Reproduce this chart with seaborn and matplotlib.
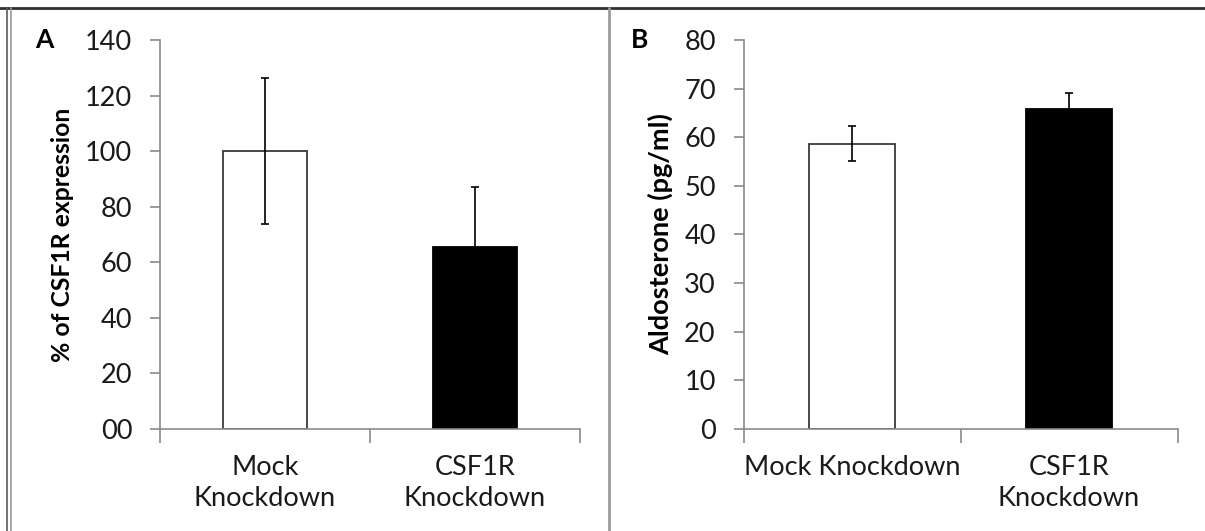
import matplotlib
matplotlib.use("Agg")
import matplotlib.pyplot as plt
from matplotlib.lines import Line2D
from matplotlib.ticker import FixedLocator
import seaborn as sns
import pandas as pd

# Panel A: CSF1R expression after knockdown
a_labels = ["Mock\nKnockdown", "CSF1R\nKnockdown"]
a_values = [100.0, 65.5]
a_errors = [26.3, 21.7]
a_ticks = [0, 20, 40, 60, 80, 100, 120, 140]
a_ticklabels = ["00", "20", "40", "60", "80", "100", "120", "140"]

# Panel B: aldosterone secretion
b_labels = ["Mock Knockdown", "CSF1R\nKnockdown"]
b_values = [58.7, 65.8]
b_errors = [3.6, 3.4]
b_ticks = [0, 10, 20, 30, 40, 50, 60, 70, 80]
b_ticklabels = [str(t) for t in b_ticks]

bar_fills = ["white", "black"]
bar_edges = ["#3a3a3a", "black"]

sns.set_theme(style="white")
plt.rcParams["font.family"] = ["Lato", "DejaVu Sans"]

fig = plt.figure(figsize=(12.05, 5.31), dpi=100)
W, H = 1205, 531


def px_axes(x0, x1, y_top, y_bot):
    return fig.add_axes([x0 / W, 1 - y_bot / H, (x1 - x0) / W, (y_bot - y_top) / H])


def draw_panel(ax, labels, values, errors, ticks, ticklabels, ylabel, ylabel_size,
               letter, letter_x):
    df = pd.DataFrame({"group": labels, "value": values})
    sns.barplot(data=df, x="group", y="value", order=labels, ax=ax,
                width=0.4, errorbar=None, color="white", saturation=1)
    for patch, fc, ec in zip(ax.patches, bar_fills, bar_edges):
        patch.set_facecolor(fc)
        patch.set_edgecolor(ec)
        patch.set_linewidth(1.3)
    ax.errorbar(range(len(values)), values, yerr=errors, fmt="none",
                ecolor="black", elinewidth=1.2, capsize=3.2, capthick=1.2, zorder=5)
    ax.set_xlim(-0.5, len(values) - 0.5)
    ax.set_ylim(ticks[0], ticks[-1])
    ax.set_yticks(ticks)
    ax.set_yticklabels(ticklabels, fontsize=19.5, color="#1a1a1a")
    ax.set_xticks(range(len(values)))
    ax.set_xticklabels(labels, fontsize=19.5, color="#1a1a1a", linespacing=1.27)
    ax.xaxis.set_minor_locator(FixedLocator([-0.5 + i for i in range(len(values) + 1)]))
    ax.tick_params(axis="x", which="major", length=0, pad=19)
    ax.tick_params(axis="x", which="minor", length=10, width=1.2, color="#8a8a8a",
                   direction="out", bottom=True)
    ax.tick_params(axis="y", which="major", length=7, width=1.2, color="#8a8a8a",
                   direction="out", left=True, pad=13)
    for side in ["top", "right"]:
        ax.spines[side].set_visible(False)
    for side in ["left", "bottom"]:
        ax.spines[side].set_color("#8a8a8a")
        ax.spines[side].set_linewidth(1.2)
    ax.set_xlabel("")
    ax.set_ylabel(ylabel, fontsize=ylabel_size, fontweight="bold", color="black",
                  labelpad=8)
    ax.text(letter_x, 1.0, letter, transform=ax.transAxes, fontsize=19,
            fontweight="bold", ha="left", va="center", color="black")


ax_a = px_axes(160, 580, 40, 429)
draw_panel(ax_a, a_labels, a_values, a_errors, a_ticks, a_ticklabels,
           "% of CSF1R expression", 17.8, "A", -0.298)

ax_b = px_axes(743.5, 1177.5, 40, 429)
draw_panel(ax_b, b_labels, b_values, b_errors, b_ticks, b_ticklabels,
           "Aldosterone (pg/ml)", 19.5, "B", -0.259)

# Figure frame lines
fig.add_artist(Line2D([0, 1], [1 - 8 / H, 1 - 8 / H], transform=fig.transFigure,
                      color="#303030", linewidth=2.0))
fig.add_artist(Line2D([7 / W, 7 / W], [0, 1 - 8 / H], transform=fig.transFigure,
                      color="#5a5a5a", linewidth=1.2))
fig.add_artist(Line2D([10.5 / W, 10.5 / W], [0, 1 - 8 / H], transform=fig.transFigure,
                      color="#9a9a9a", linewidth=1.2))
fig.add_artist(Line2D([608.5 / W, 608.5 / W], [0, 1 - 8 / H], transform=fig.transFigure,
                      color="#9a9a9a", linewidth=2.0))

fig.savefig("out.png", dpi=100, facecolor="white")
